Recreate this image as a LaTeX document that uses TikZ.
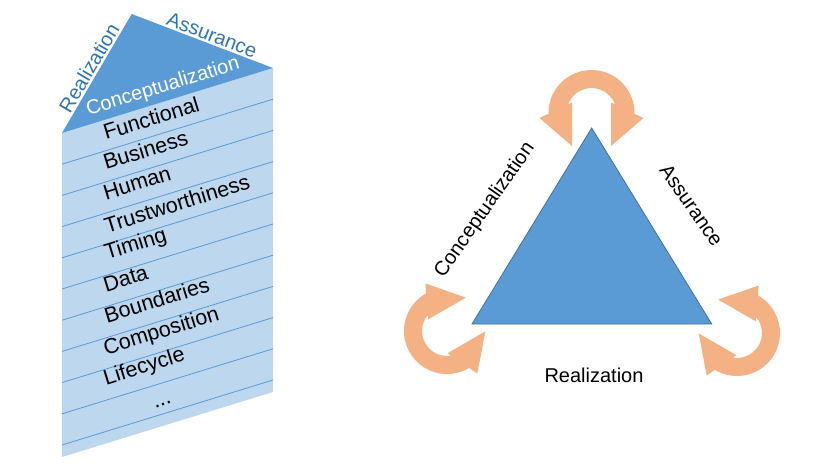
\documentclass[tikz,border=0pt]{standalone}
\usepackage{fontspec}
\setmainfont{Liberation Sans}
\definecolor{triblue}{HTML}{5B9BD5}
\definecolor{stripe}{HTML}{BDD7EE}
\definecolor{labblue}{HTML}{2E75B6}
\definecolor{orng}{HTML}{F4B183}
\definecolor{triedge}{HTML}{41719C}
\tikzset{
  rowtext/.style={anchor=base west, inner sep=0pt, outer sep=0pt, rotate=17.1,
    font=\fontsize{21.5}{25}\selectfont, text=black},
  edgelab/.style={inner sep=0pt, outer sep=0pt, font=\fontsize{20}{24}\selectfont},
  stripeline/.style={draw=triblue, line width=0.8pt},
  cyc/.pic={
    \fill[orng] (-19.5,-33) -- (-19.5,10.5) -- (160:25)
      arc[start angle=160, end angle=20, radius=25]
      -- (19.5,10.5) -- (19.5,-33) -- (52,-5) -- (-1:43)
      arc[start angle=-1, end angle=181, radius=43]
      -- (-52,-5) -- cycle;
  }
}
\begin{document}
\begin{tikzpicture}[x=1pt, y=1pt]
\useasboundingbox (0,0) rectangle (820,-468);
% ---------- left prism ----------
\coordinate (ptl) at (62,-133);
\coordinate (ptr) at (273,-68);
\coordinate (pbr) at (273,-392);
\coordinate (pbl) at (62,-457);
\coordinate (papex) at (131.7,-14);
\fill[stripe] (ptl) -- (ptr) -- (pbr) -- (pbl) -- cycle;
\foreach \i in {1,...,10}{
  \draw[stripeline] (62,{-133-31.2*\i}) -- (273,{-68-31.2*\i});
}
\fill[triblue] (ptl) -- (papex) -- (ptr) -- cycle;
\node[edgelab, text=labblue, rotate=59.5] (lr) at (89,-68) {Realization};
\node[edgelab, text=labblue, rotate=-21] (la) at (212,-35) {Assurance};
\node[edgelab, text=white, rotate=17.1] (lc) at (163,-87) {Conceptualization};
\node[rowtext] (r1) at (106,-140) {Functional};
\node[rowtext] (r2) at (106,-170) {Business};
\node[rowtext] (r3) at (106,-200) {Human};
\node[rowtext] (r4) at (107,-233) {Trustworthiness};
\node[rowtext] (r5) at (107,-260) {Timing};
\node[rowtext] (r6) at (106,-292) {Data};
\node[rowtext] (r7) at (107,-323) {Boundaries};
\node[rowtext] (r8) at (106,-355) {Composition};
\node[rowtext] (r9) at (106,-385) {Lifecycle};
\node[rowtext] (r10) at (155,-408) {...};
% ---------- right triangle ----------
\coordinate (tl) at (472,-324);
\coordinate (tt) at (591.7,-128);
\coordinate (tr) at (711.7,-324);
\draw[fill=triblue, draw=triedge, line width=0.8pt] (tl) -- (tt) -- (tr) -- cycle;
\pic at (591.5,-113) {cyc};
\pic[rotate=120] at (447,-331) {cyc};
\pic[rotate=-120] at (737,-333) {cyc};
\node[edgelab, rotate=55] (rc) at (485,-210) {Conceptualization};
\node[edgelab, rotate=-55] (ra) at (691.5,-205) {Assurance};
\node[edgelab, anchor=base] (rr) at (594,-382) {Realization};
\end{tikzpicture}
\end{document}
